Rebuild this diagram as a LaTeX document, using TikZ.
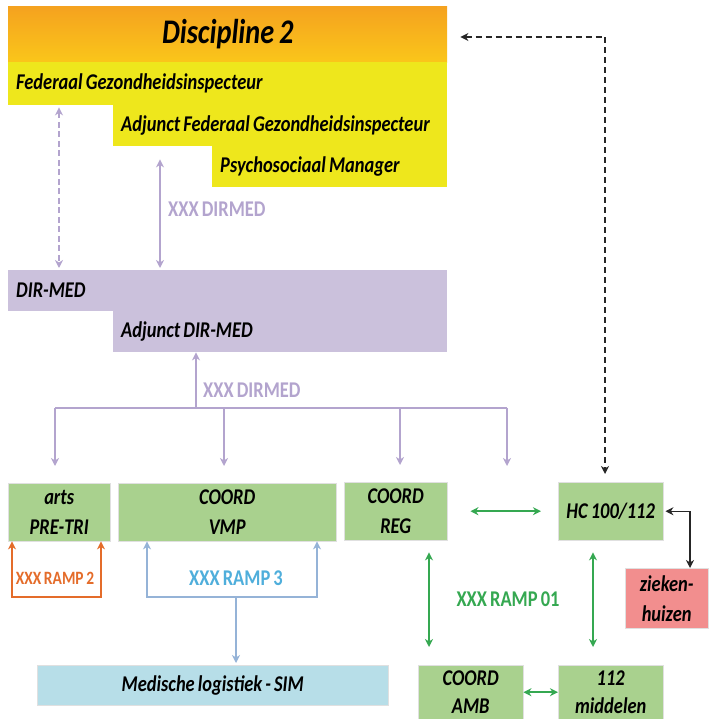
\documentclass[tikz,border=0pt]{standalone}
\usepackage{fontspec}
\setmainfont{Carlito}[FakeStretch=0.82,WordSpace=0.75]
\usetikzlibrary{arrows.meta,positioning}

\definecolor{kopboven}{HTML}{F5A21F}
\definecolor{kopbeneden}{HTML}{FAC61A}
\definecolor{geel}{HTML}{EEE71C}
\definecolor{lila}{HTML}{CBC1DC}
\definecolor{lilalijn}{HTML}{B3A4CE}
\definecolor{groen}{HTML}{A9D18E}
\definecolor{groenlijn}{HTML}{35A851}
\definecolor{rood}{HTML}{F28E8E}
\definecolor{lichtblauw}{HTML}{B7DEE8}
\definecolor{blauwlijn}{HTML}{95B3D7}
\definecolor{blauwtekst}{HTML}{4FAEDB}
\definecolor{oranje}{HTML}{E46C2A}

\begin{document}
\begin{tikzpicture}[x=1pt,y=-1pt,>={Stealth[length=8pt,width=8pt,inset=2.5pt]},
    box/.style={anchor=north west,inner sep=0pt,align=center,
      font=\bfseries\itshape\fontsize{22.5}{30}\selectfont},
    tier/.style={box,inner xsep=8pt,align=flush left},
    gbox/.style={box,fill=groen,draw=black!12},
    lbl/.style={font=\bfseries\fontsize{22.5}{24}\selectfont,inner sep=0pt},
    lilapijl/.style={draw=lilalijn,line width=1.6pt},
    groenpijl/.style={draw=groenlijn,line width=1.6pt},
    zwartpijl/.style={draw=black!85,line width=1.2pt}]
    \useasboundingbox (0,0) rectangle (722,719);

    \node[box,top color=kopboven,bottom color=kopbeneden,minimum width=439pt,minimum height=56pt,
      font=\bfseries\itshape\fontsize{34.5}{38}\selectfont] (disc) at (8,6) {Discipline 2};
    \node[tier,fill=geel,minimum width=439pt,minimum height=43pt,text width=423pt] (fgi) at (8,62) {Federaal Gezondheidsinspecteur};
    \node[tier,fill=geel,minimum width=334pt,minimum height=41pt,text width=318pt] (afgi) at (113,105) {Adjunct Federaal Gezondheidsinspecteur};
    \node[tier,fill=geel,minimum width=235pt,minimum height=41pt,text width=219pt] (psm) at (212,146) {Psychosociaal Manager};

    \node[tier,fill=lila,minimum width=439pt,minimum height=41pt,text width=423pt] (dm) at (8,270) {DIR-MED};
    \node[tier,fill=lila,minimum width=334pt,minimum height=41pt,text width=318pt] (adm) at (113,311) {Adjunct DIR-MED};

    \node[gbox,minimum width=102pt,minimum height=58pt] (pretri) at (8,483) {arts\\PRE-TRI};
    \node[gbox,minimum width=218pt,minimum height=58pt] (vmp) at (118,483) {COORD\\VMP};
    \node[gbox,minimum width=103pt,minimum height=58pt] (reg) at (344,482) {COORD\\REG};
    \node[gbox,minimum width=105pt,minimum height=58pt] (hc) at (558,482) {HC 100/112};
    \node[box,fill=rood,draw=black!12,minimum width=83pt,minimum height=60pt] (zk) at (625,568) {zieken-\\huizen};
    \node[box,fill=lichtblauw,draw=black!12,minimum width=351pt,minimum height=40pt] (sim) at (37,665) {Medische logistiek - SIM};
    \node[gbox,minimum width=105pt,minimum height=54pt,font=\bfseries\itshape\fontsize{22.5}{28}\selectfont] (amb) at (418,665) {COORD\\AMB};
    \node[gbox,minimum width=105pt,minimum height=54pt,font=\bfseries\itshape\fontsize{22.5}{28}\selectfont] (mid) at (558,665) {112\\middelen};

    \node[lbl,text=lilalijn,anchor=west] (l1) at (168,209) {XXX DIRMED};
    \node[lbl,text=lilalijn,anchor=west] (l2) at (203,390) {XXX DIRMED};
    \node[lbl,text=oranje,font=\bfseries\fontsize{18.8}{20}\selectfont] (l3) at (55,578) {XXX RAMP 2};
    \node[lbl,text=blauwtekst] (l4) at (236,578) {XXX RAMP 3};
    \node[lbl,text=groenlijn] (l5) at (508,599) {XXX RAMP 01};

    % lijnen DIR-MED
    \coordinate (d1) at (59,0);
    \coordinate (d2) at (160,0);
    \draw[lilapijl,dash pattern=on 6pt off 3.5pt,<->,shorten <=2pt,shorten >=2pt] (fgi.south -| d1) -- (dm.north -| d1);
    \draw[lilapijl,<->,shorten <=13pt,shorten >=2pt] (afgi.south -| d2) -- (dm.north -| d2);

    \coordinate (s0) at (196,408);
    \coordinate (s1) at (55,408);
    \coordinate (s2) at (224,408);
    \coordinate (s3) at (400,408);
    \coordinate (s4) at (507,408);
    \coordinate (s5) at (507,466);
    \draw[lilapijl,->] (s0) -- (adm.south -| s0);
    \draw[lilapijl] (s1) -- (s4);
    \path[->,shorten >=17pt,lilalijn,line width=1.6pt]
    (s1) edge (pretri.north -| s1)
    (s2) edge (vmp.north -| s2)
    (s3) edge (reg.north -| s3);
    \draw[lilapijl,->] (s4) -- (s5);

    % ramp 2 en 3
    \coordinate (o1) at (12,597);
    \coordinate (o2) at (101,597);
    \draw[draw=oranje,line width=1.6pt,<->] (pretri.south -| o1) -- (o1) -- (o2) -- (pretri.south -| o2);
    \coordinate (b1) at (147,597);
    \coordinate (b2) at (317,597);
    \coordinate (b3) at (236,597);
    \draw[draw=blauwlijn,line width=1.6pt,<->] (vmp.south -| b1) -- (b1) -- (b2) -- (vmp.south -| b2);
    \draw[draw=blauwlijn,line width=1.6pt,->,shorten >=2pt] (b3) -- (sim.north -| b3);

    % ramp 01
    \coordinate (g1) at (429,0);
    \coordinate (g2) at (593,0);
    \draw[groenpijl,<->,shorten <=23pt,shorten >=17pt] (reg.east) -- (hc.west);
    \draw[groenpijl,<->,shorten <=12pt,shorten >=18pt] (reg.south -| g1) -- (amb.north -| g1);
    \draw[groenpijl,<->,shorten <=12pt,shorten >=18pt] (hc.south -| g2) -- (mid.north -| g2);
    \draw[groenpijl,<->] (amb.east) -- (mid.west);

    % HC
    \coordinate (z) at (690,0);
    \coordinate (k) at (605,37);
    \draw[zwartpijl,<->,shorten <=2pt] (hc.east) -| (zk.north -| z);
    \draw[zwartpijl,dash pattern=on 6pt off 4pt,<->,shorten <=13pt,shorten >=8pt] (k -| disc.east) -- (k) -- (hc.north -| k);
\end{tikzpicture}
\end{document}
